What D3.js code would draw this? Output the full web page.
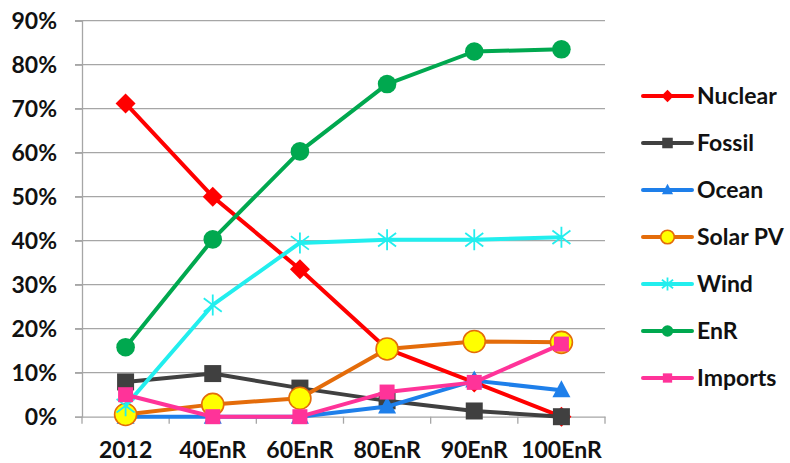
<!DOCTYPE html>
<html><head><meta charset="utf-8">
<script src="https://cdn.jsdelivr.net/npm/d3@7"></script>
<style>body{margin:0;background:#fff}svg{display:block}</style>
</head><body>
<svg id="c" width="790" height="463"></svg>
<script>
const categories = ["2012","40EnR","60EnR","80EnR","90EnR","100EnR"];
const yTicks = [0,10,20,30,40,50,60,70,80,90];
const seriesNames = ["Nuclear","Fossil","Ocean","Solar PV","Wind","EnR","Imports"];
const nuclear = [71.2, 50.0, 33.5, 15.4, 7.8, 0.0];
const fossil  = [7.9, 9.8, 6.5, 3.6, 1.3, 0.0];
const ocean   = [0.0, 0.0, 0.0, 2.3, 8.2, 6.0];
const solarPV = [0.5, 2.8, 4.2, 15.4, 17.1, 16.9];
const wind    = [2.5, 25.4, 39.5, 40.2, 40.2, 40.8];
const enr     = [15.8, 40.3, 60.3, 75.6, 83.0, 83.5];
const imports = [5.0, 0.0, 0.0, 5.6, 7.8, 16.5];

const styles = {
  "Nuclear": {color:"#FF0000", marker:"diamond", fill:"#FF0000"},
  "Fossil": {color:"#404040", marker:"square", fill:"#404040", sq:17},
  "Ocean": {color:"#1E7FEA", marker:"triangle", fill:"#1E7FEA"},
  "Solar PV": {color:"#E46C0A", marker:"circleBig", fill:"#FFFF00"},
  "Wind": {color:"#22EEEE", marker:"star", fill:"none"},
  "EnR": {color:"#00A84F", marker:"circle", fill:"#00A84F"},
  "Imports": {color:"#FF3399", marker:"square", fill:"#FF3399", sq:15}
};
const data = [nuclear, fossil, ocean, solarPV, wind, enr, imports];

const svg = d3.select("#c");
const pLeft = 82, pRight = 605, pTop = 20.7, pBottom = 416.7;
const x = d3.scaleBand().domain(categories).range([pLeft, pRight]);
const y = d3.scaleLinear().domain([0, 90]).range([pBottom, pTop]);
const font = "Lato, 'Open Sans', sans-serif";
const fs = 23;

// grid
svg.append("g").selectAll("line").data(yTicks.filter(d=>d>0)).join("line")
  .attr("x1", pLeft-7).attr("x2", pRight).attr("y1", d=>y(d)).attr("y2", d=>y(d))
  .attr("stroke", "#A6A6A6").attr("stroke-width", 1.3);

// y axis
const ya = svg.append("g").attr("transform", `translate(${pLeft},0)`)
  .call(d3.axisLeft(y).tickValues(yTicks).tickSize(7).tickFormat(d=>d+"%"));
ya.select(".domain").attr("stroke","#A6A6A6").attr("stroke-width",1.3);
ya.selectAll(".tick line").attr("stroke","#A6A6A6").attr("stroke-width",1.3);
ya.selectAll("text").attr("font-family", font).attr("font-weight","bold")
  .attr("font-size", fs).attr("fill","#111").attr("x", -25).attr("dy","0.35em");

// x axis
const xa = svg.append("g").attr("transform", `translate(0,${pBottom})`)
  .call(d3.axisBottom(x).tickSize(0).tickSizeOuter(0));
xa.select(".domain").attr("stroke","#A6A6A6").attr("stroke-width",1.3);
xa.selectAll("text").attr("font-family", font).attr("font-weight","bold")
  .attr("font-size", fs).attr("fill","#111").attr("y", 33).attr("dy","0.35em");
// band boundary ticks
const bounds = categories.map(c=>x(c)).concat([pRight]);
svg.append("g").selectAll("line").data(bounds).join("line")
  .attr("x1", d=>d).attr("x2", d=>d).attr("y1", pBottom).attr("y2", pBottom+7)
  .attr("stroke","#A6A6A6").attr("stroke-width",1.3);

function drawMarker(g, type, cx, cy, s, k) {
  // k: scale factor (1 for chart, smaller for legend)
  if (type === "diamond") {
    const h = 10*k;
    g.append("path").attr("d", `M${cx},${cy-h}L${cx+h},${cy}L${cx},${cy+h}L${cx-h},${cy}Z`).attr("fill", s.fill);
  } else if (type === "square") {
    const a = s.sq*k;
    g.append("rect").attr("x", cx-a/2).attr("y", cy-a/2).attr("width",a).attr("height",a)
      .attr("fill", s.fill);
  } else if (type === "triangle") {
    g.append("path").attr("d", `M${cx},${cy-10*k}L${cx+9*k},${cy+7*k}L${cx-9*k},${cy+7*k}Z`).attr("fill", s.fill);
  } else if (type === "circleBig") {
    g.append("circle").attr("cx",cx).attr("cy",cy).attr("r",11*k).attr("fill",s.fill)
      .attr("stroke", s.color).attr("stroke-width",1.6);
  } else if (type === "circle") {
    g.append("circle").attr("cx",cx).attr("cy",cy).attr("r",9.3*k).attr("fill",s.fill);
  } else if (type === "star") {
    const r = 10.5*k, d = 9*k;
    g.append("path").attr("d", `M${cx},${cy-r}L${cx},${cy+r}M${cx-d},${cy-d*0.75}L${cx+d},${cy+d*0.75}M${cx-d},${cy+d*0.75}L${cx+d},${cy-d*0.75}`)
      .attr("stroke", s.color).attr("stroke-width",1.8).attr("fill","none");
  }
}

const line = d3.line().x((d,i)=>x(categories[i])+x.bandwidth()/2).y(d=>y(d));
seriesNames.forEach((name, k) => {
  const s = styles[name];
  const g = svg.append("g");
  g.append("path").datum(data[k]).attr("d", line).attr("fill","none")
    .attr("stroke", s.color).attr("stroke-width", 4).attr("stroke-linejoin","round");
  data[k].forEach((v,i)=> drawMarker(g, s.marker, x(categories[i])+x.bandwidth()/2, y(v), s, 1));
});

// legend
const legY = d3.scalePoint().domain(seriesNames).range([96, 378]);
seriesNames.forEach(name => {
  const s = styles[name];
  const g = svg.append("g");
  const cy = legY(name);
  g.append("line").attr("x1",643).attr("x2",692).attr("y1",cy).attr("y2",cy)
    .attr("stroke", s.color).attr("stroke-width",4).attr("stroke-linecap","round");
  drawMarker(g, s.marker, 667.5, cy, s, 0.62);
  g.append("text").attr("x",697).attr("y",cy).attr("dy","0.35em")
    .attr("font-family", font).attr("font-weight","bold").attr("font-size",fs)
    .attr("fill","#111").text(name);
});
</script>
</body></html>
